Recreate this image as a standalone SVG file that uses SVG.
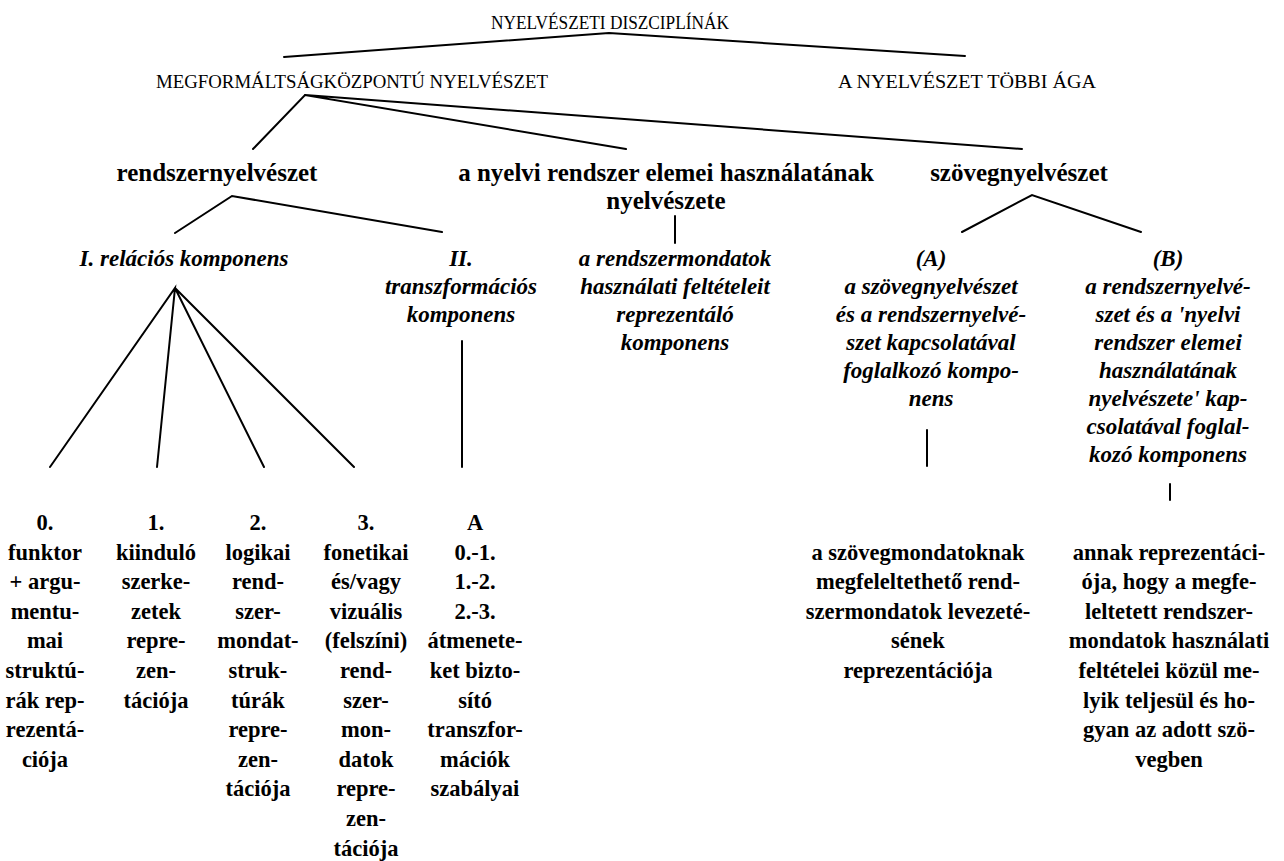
<svg xmlns="http://www.w3.org/2000/svg" width="1284" height="861" viewBox="0 0 1284 861">
<style>
text{font-family:"Liberation Serif","Times New Roman",serif;fill:#000;text-anchor:middle}
.cap{font-size:19px}
.hd{font-size:25px;font-weight:bold}
.it{font-size:23px;font-weight:bold;font-style:italic}
.bt{font-size:22.5px;font-weight:bold}
.ln{stroke:#000;stroke-width:2;fill:none;stroke-linecap:round}
</style>
<rect width="1284" height="861" fill="#fff"/>
<g id="connectors" class="ln">
<path d="M284 57L609 33L965 56"/>
<path d="M253 149L305 95L626 149M305 95L1022 149"/>
<path d="M175 233L232 196L442 232"/>
<path d="M675 216V243"/>
<path d="M962 232L1032 195L1141 232"/>
<path d="M50 467L175 288L157 467M175 288L264 467M175 288L354 467"/>
<path d="M462 341V467"/>
<path d="M927 430V466"/>
<path d="M1170 484V500"/>
</g>
<g id="n-root"><text class="cap" x="610" y="29" textLength="238" lengthAdjust="spacingAndGlyphs">NYELVÉSZETI DISZCIPLÍNÁK</text></g>
<g id="n-megform"><text class="cap" x="352" y="88" textLength="392" lengthAdjust="spacingAndGlyphs">MEGFORMÁLTSÁGKÖZPONTÚ NYELVÉSZET</text></g>
<g id="n-tobbi"><text class="cap" x="967" y="88" textLength="258" lengthAdjust="spacingAndGlyphs">A NYELVÉSZET TÖBBI ÁGA</text></g>
<g id="n-rendszer"><text class="hd" x="217" y="181">rendszernyelvészet</text></g>
<g id="n-hasznalat"><text class="hd" x="666" y="181">a nyelvi rendszer elemei használatának</text><text class="hd" x="666" y="209">nyelvészete</text></g>
<g id="n-szoveg"><text class="hd" x="1019" y="181">szövegnyelvészet</text></g>
<g id="n-I"><text class="it" x="184" y="266">I. relációs komponens</text></g>
<g id="n-II"><text class="it" x="461" y="266">II.</text><text class="it" x="461" y="294">transzformációs</text><text class="it" x="461" y="322">komponens</text></g>
<g id="n-repr"><text class="it" x="675" y="266">a rendszermondatok</text><text class="it" x="675" y="294">használati feltételeit</text><text class="it" x="675" y="322">reprezentáló</text><text class="it" x="675" y="350">komponens</text></g>
<g id="n-A"><text class="it" x="931" y="266">(A)</text><text class="it" x="931" y="294">a szövegnyelvészet</text><text class="it" x="931" y="322">és a rendszernyelvé-</text><text class="it" x="931" y="350">szet kapcsolatával</text><text class="it" x="931" y="378">foglalkozó kompo-</text><text class="it" x="931" y="406">nens</text></g>
<g id="n-B"><text class="it" x="1168" y="266">(B)</text><text class="it" x="1168" y="294">a rendszernyelvé-</text><text class="it" x="1168" y="322">szet és a 'nyelvi</text><text class="it" x="1168" y="350">rendszer elemei</text><text class="it" x="1168" y="378">használatának</text><text class="it" x="1168" y="406">nyelvészete' kap-</text><text class="it" x="1168" y="434">csolatával foglal-</text><text class="it" x="1168" y="462">kozó komponens</text></g>
<g id="n-c0"><text class="bt" x="45" y="530">0.</text><text class="bt" x="45" y="559.6">funktor</text><text class="bt" x="45" y="589.2">+ argu-</text><text class="bt" x="45" y="618.8">mentu-</text><text class="bt" x="45" y="648.4">mai</text><text class="bt" x="45" y="678">struktú-</text><text class="bt" x="45" y="707.6">rák rep-</text><text class="bt" x="45" y="737.2">rezentá-</text><text class="bt" x="45" y="766.8">ciója</text></g>
<g id="n-c1"><text class="bt" x="156" y="530">1.</text><text class="bt" x="156" y="559.6">kiinduló</text><text class="bt" x="156" y="589.2">szerke-</text><text class="bt" x="156" y="618.8">zetek</text><text class="bt" x="156" y="648.4">repre-</text><text class="bt" x="156" y="678">zen-</text><text class="bt" x="156" y="707.6">tációja</text></g>
<g id="n-c2"><text class="bt" x="258" y="530">2.</text><text class="bt" x="258" y="559.6">logikai</text><text class="bt" x="258" y="589.2">rend-</text><text class="bt" x="258" y="618.8">szer-</text><text class="bt" x="258" y="648.4">mondat-</text><text class="bt" x="258" y="678">struk-</text><text class="bt" x="258" y="707.6">túrák</text><text class="bt" x="258" y="737.2">repre-</text><text class="bt" x="258" y="766.8">zen-</text><text class="bt" x="258" y="796.4">tációja</text></g>
<g id="n-c3"><text class="bt" x="366" y="530">3.</text><text class="bt" x="366" y="559.6">fonetikai</text><text class="bt" x="366" y="589.2">és/vagy</text><text class="bt" x="366" y="618.8">vizuális</text><text class="bt" x="366" y="648.4">(felszíni)</text><text class="bt" x="366" y="678">rend-</text><text class="bt" x="366" y="707.6">szer-</text><text class="bt" x="366" y="737.2">mon-</text><text class="bt" x="366" y="766.8">datok</text><text class="bt" x="366" y="796.4">repre-</text><text class="bt" x="366" y="826">zen-</text><text class="bt" x="366" y="855.6">tációja</text></g>
<g id="n-c4"><text class="bt" x="475" y="530">A</text><text class="bt" x="475" y="559.6">0.-1.</text><text class="bt" x="475" y="589.2">1.-2.</text><text class="bt" x="475" y="618.8">2.-3.</text><text class="bt" x="475" y="648.4">átmenete-</text><text class="bt" x="475" y="678">ket bizto-</text><text class="bt" x="475" y="707.6">sító</text><text class="bt" x="475" y="737.2">transzfor-</text><text class="bt" x="475" y="766.8">mációk</text><text class="bt" x="475" y="796.4">szabályai</text></g>
<g id="n-rA"><text class="bt" x="918" y="559.6">a szövegmondatoknak</text><text class="bt" x="918" y="589.2">megfeleltethető rend-</text><text class="bt" x="918" y="618.8">szermondatok levezeté-</text><text class="bt" x="918" y="648.4">sének</text><text class="bt" x="918" y="678">reprezentációja</text></g>
<g id="n-rB"><text class="bt" x="1169" y="559.6">annak reprezentáci-</text><text class="bt" x="1169" y="589.2">ója, hogy a megfe-</text><text class="bt" x="1169" y="618.8">leltetett rendszer-</text><text class="bt" x="1169" y="648.4">mondatok használati</text><text class="bt" x="1169" y="678">feltételei közül me-</text><text class="bt" x="1169" y="707.6">lyik teljesül és ho-</text><text class="bt" x="1169" y="737.2">gyan az adott szö-</text><text class="bt" x="1169" y="766.8">vegben</text></g>
</svg>
